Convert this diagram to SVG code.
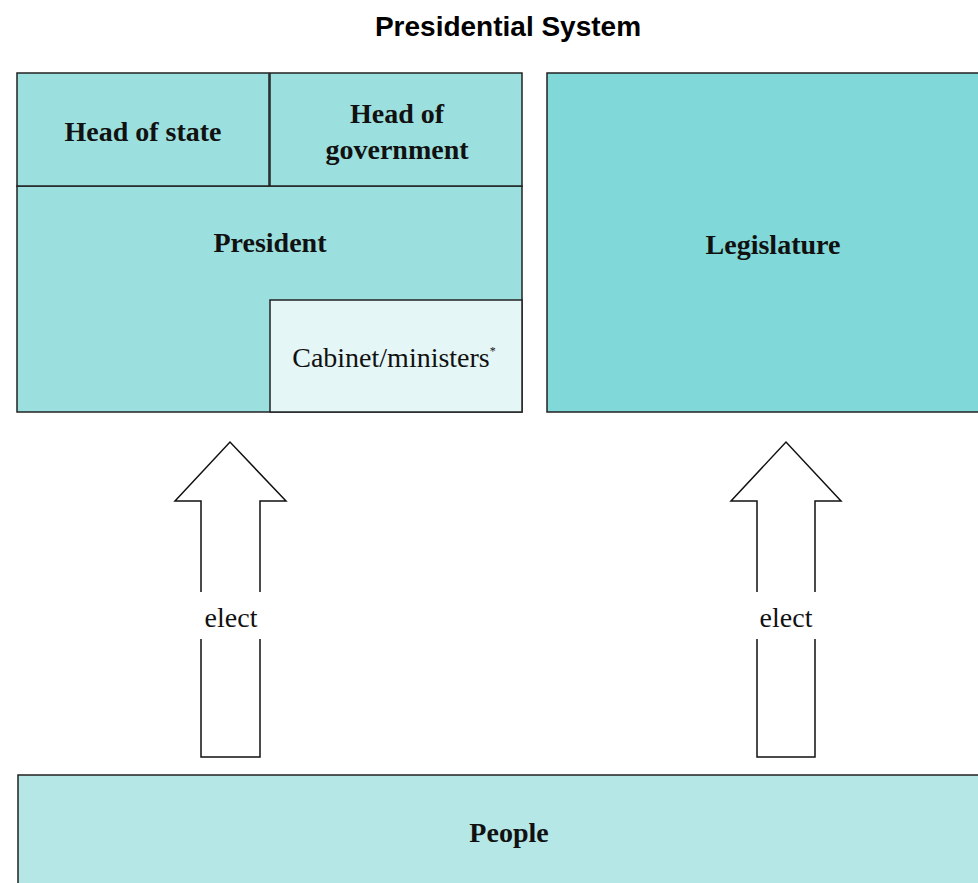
<svg xmlns="http://www.w3.org/2000/svg" width="978" height="883" viewBox="0 0 978 883">
<style>
.box{stroke:#222;stroke-width:1.5}
.lbl{font-family:"Liberation Serif",serif;font-weight:bold;font-size:28px;fill:#111;text-anchor:middle}
.reg{font-family:"Liberation Serif",serif;font-size:28px;fill:#111;text-anchor:middle}
.arr{fill:#fff;stroke:#111;stroke-width:1.5}
.title{font-family:"Liberation Sans",Arial,sans-serif;font-weight:bold;font-size:28px;fill:#000;text-anchor:middle}
</style>
<rect width="978" height="883" fill="#fff"/>
<text class="title" x="508" y="36">Presidential System</text>
<g id="president">
<rect class="box" x="17" y="186" width="505" height="226" fill="#9be0de"/>
<text class="lbl" x="270" y="252">President</text>
</g>
<g id="head-of-state">
<rect class="box" x="17" y="73" width="252" height="113" fill="#9be0de"/>
<text class="lbl" x="143" y="141">Head of state</text>
</g>
<g id="head-of-government">
<rect class="box" x="270" y="73" width="252" height="113" fill="#9be0de"/>
<text class="lbl" x="397" y="123">Head of</text>
<text class="lbl" x="397" y="159">government</text>
</g>
<g id="cabinet">
<rect class="box" x="270" y="300" width="252" height="112" fill="#e4f6f6"/>
<text class="reg" x="394" y="367">Cabinet/ministers<tspan font-size="12" dy="-12">*</tspan></text>
</g>
<g id="legislature">
<rect class="box" x="547" y="73" width="440" height="339" fill="#80d8d8"/>
<text class="lbl" x="773" y="254">Legislature</text>
</g>
<g id="people">
<rect class="box" x="18" y="775" width="970" height="120" fill="#b4e7e6"/>
<text class="lbl" x="509" y="842">People</text>
</g>
<g id="connectors">
<g id="arrow-left">
<path class="arr" d="M201,757 L201,501 L175,501 L230,442 L286,501 L260,501 L260,757 Z"/>
<rect x="196" y="592" width="70" height="47" fill="#fff"/>
<text class="reg" x="231" y="627" font-size="27">elect</text>
</g>
<g id="arrow-right">
<path class="arr" d="M757,757 L757,501 L731,501 L786,442 L841,501 L815,501 L815,757 Z"/>
<rect x="752" y="592" width="70" height="47" fill="#fff"/>
<text class="reg" x="786" y="627" font-size="27">elect</text>
</g>
</g>
</svg>
